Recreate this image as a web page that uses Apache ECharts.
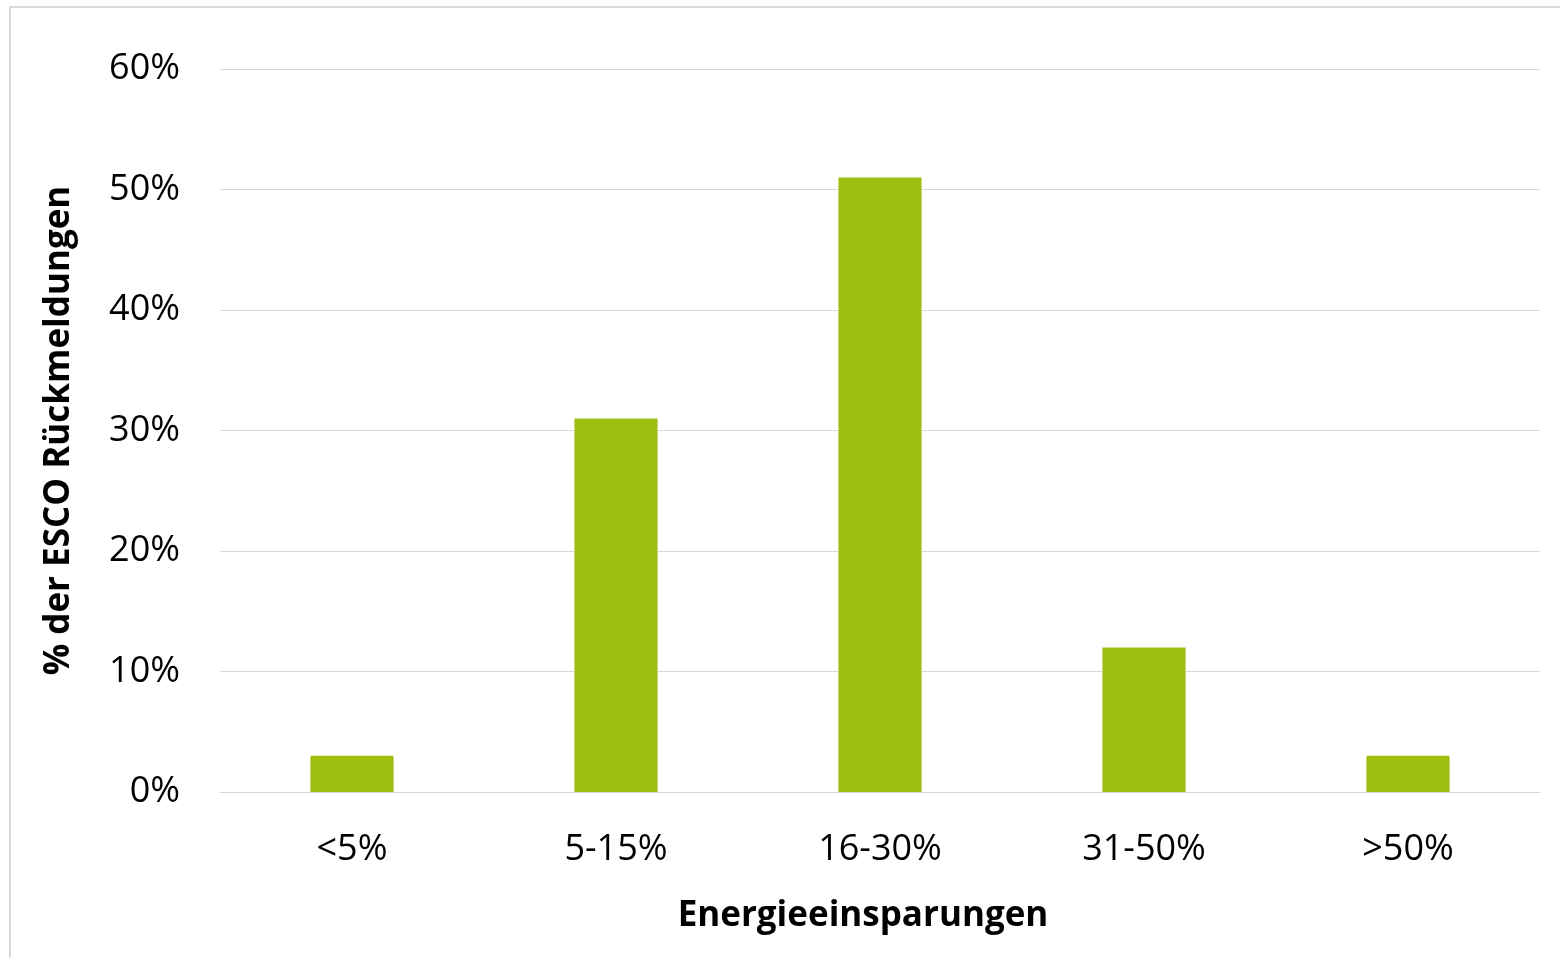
<!DOCTYPE html>
<html>
<head>
<meta charset="utf-8">
<script src="https://cdn.jsdelivr.net/npm/echarts@6/dist/echarts.min.js"></script>
<style>
    html, body { margin: 0; padding: 0; background: #fff; }
    #chart { width: 1560px; height: 958px; }
</style>
</head>
<body>
<div id="chart"></div>
<script>
// Kategorien und Werte (in Prozent)
const categories = ['<5%', '5-15%', '16-30%', '31-50%', '>50%'];
const shares = [3, 31, 51, 12, 3];
const yTicks = { min: 0, max: 60, interval: 10 };

let myChart = echarts.init(document.getElementById('chart'));

let option = {
    backgroundColor: '#fff',
    textStyle: { fontFamily: 'Open Sans' },
    graphic: [{
        type: 'rect',
        shape: { x: 10, y: 7, width: 1580, height: 980 },
        style: { fill: 'none', stroke: '#d9d9d9', lineWidth: 2 },
        silent: true
    }],
    grid: { left: 220, right: 20, top: 69, bottom: 166 },
    xAxis: {
        type: 'category',
        data: categories,
        name: 'Energieeinsparungen',
        nameLocation: 'middle',
        nameGap: 107,
        // Titel leicht links von der Achsenmitte
        nameTextStyle: { color: '#000', fontSize: 35, fontWeight: 'bold', padding: [0, 34, 0, 0] },
        axisLine: { show: true, lineStyle: { color: '#d9d9d9', width: 1 } },
        axisTick: { show: false },
        axisLabel: { color: '#000', fontSize: 36, margin: 40 }
    },
    yAxis: {
        type: 'value',
        min: yTicks.min,
        max: yTicks.max,
        interval: yTicks.interval,
        name: '% der ESCO Rückmeldungen',
        nameLocation: 'middle',
        nameGap: 143,
        nameTextStyle: { color: '#000', fontSize: 35, fontWeight: 'bold' },
        axisLine: { show: false },
        axisTick: { show: false },
        axisLabel: { color: '#000', fontSize: 36, margin: 40, formatter: '{value}%', padding: [4, 0, 0, 0] },
        splitLine: { lineStyle: { color: '#d9d9d9', width: 1 } }
    },
    series: [{
        type: 'bar',
        data: shares,
        barWidth: '31.5%',
        itemStyle: { color: '#9fbf10' },
        silent: true
    }],
    animation: false
};

myChart.setOption(option);
</script>
</body>
</html>
